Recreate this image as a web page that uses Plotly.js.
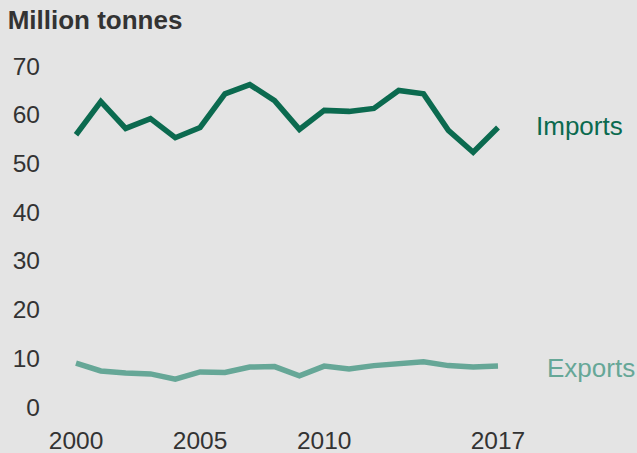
<!DOCTYPE html>
<html><head><meta charset="utf-8">
<script src="https://cdn.plot.ly/plotly-3.0.1.min.js"></script>
<style>html,body{margin:0;padding:0;background:#e4e4e4;}</style>
</head><body>
<div id="chart" style="width:637px;height:453px;"></div>
<script>
var years = [2000,2001,2002,2003,2004,2005,2006,2007,2008,2009,2010,2011,2012,2013,2014,2015,2016,2017];
var imports = [55.9,62.7,57.2,59.2,55.3,57.4,64.3,66.2,62.9,57.0,60.9,60.7,61.3,65.0,64.3,56.8,52.3,57.4];
var exports = [9.0,7.4,7.0,6.8,5.7,7.2,7.1,8.2,8.3,6.4,8.4,7.8,8.5,9.0,9.3,8.5,8.2,8.4];
var xTicks = [2000,2005,2010,2017];
var yTicks = [0,10,20,30,40,50,60,70];
var seriesNames = ['Imports','Exports'];
var colors = ['#0b6a4f','#66a797'];

var traces = [
  {x: years, y: imports, mode:'lines', line:{color:colors[0], width:5.5}, name:seriesNames[0], hoverinfo:'x+y'},
  {x: years, y: exports, mode:'lines', line:{color:colors[1], width:5.5}, name:seriesNames[1], hoverinfo:'x+y'}
];
var font = 'Liberation Sans, Arial, sans-serif';
var layout = {
  width:637, height:453,
  paper_bgcolor:'#e4e4e4', plot_bgcolor:'#e4e4e4',
  margin:{l:41, r:0, t:50, b:30},
  showlegend:false,
  font:{family:font, color:'#333333', size:24},
  title:{text:'<b>Million tonnes</b>', x:0.012, xanchor:'left', y:0.955, yanchor:'middle', font:{family:font, size:26, color:'#333333'}},
  xaxis:{range:[1998.59, 2022.6], tickvals:xTicks, ticktext:xTicks.map(String), showgrid:false, zeroline:false, showline:false, ticks:'', tickfont:{size:24.5, color:'#333333'}, fixedrange:true},
  yaxis:{range:[-3.28, 73.3], tickvals:yTicks, ticktext:yTicks.map(String), showgrid:false, zeroline:false, showline:false, ticks:'', tickfont:{size:24.5, color:'#333333'}, fixedrange:true},
  annotations:[
    {x:2018.45, y:imports[imports.length-1]+0.4, xref:'x', yref:'y', text:seriesNames[0], showarrow:false, xanchor:'left', yanchor:'middle', font:{size:26, color:colors[0], family:font}},
    {x:2018.9, y:exports[exports.length-1]-0.3, xref:'x', yref:'y', text:seriesNames[1], showarrow:false, xanchor:'left', yanchor:'middle', font:{size:26, color:colors[1], family:font}}
  ]
};
Plotly.newPlot('chart', traces, layout, {displayModeBar:false, staticPlot:true});
</script>
</body></html>
